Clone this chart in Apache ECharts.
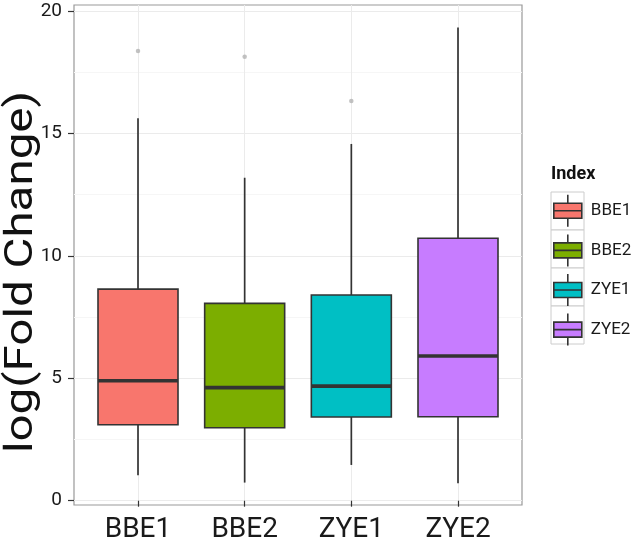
<!DOCTYPE html>
<html>
<head>
<meta charset="utf-8">
<script src="https://cdn.jsdelivr.net/npm/echarts@6/dist/echarts.min.js"></script>
<style>html,body{margin:0;padding:0;background:#fff}#c{width:641px;height:547px}</style>
</head>
<body>
<div id="c"></div>
<script>
// ---- data ----
const categories = ['BBE1', 'BBE2', 'ZYE1', 'ZYE2'];
// [min whisker, Q1, median, Q3, max whisker]
const boxBBE1 = [1.04, 3.10, 4.90, 8.64, 15.62];
const boxBBE2 = [0.74, 2.98, 4.62, 8.06, 13.19];
const boxZYE1 = [1.46, 3.42, 4.68, 8.40, 14.57];
const boxZYE2 = [0.71, 3.43, 5.91, 10.72, 19.33];
const outlierPoints = [['BBE1', 18.37], ['BBE2', 18.13], ['ZYE1', 16.32]];
const yTickMin = 0, yTickMax = 20, yTickStep = 5;
const yTitle = 'log(Fold Change)';
const legendTitle = 'Index';
const colors = ['#F8766D', '#7CAE00', '#00BFC4', '#C77CFF'];

const boxes = [boxBBE1, boxBBE2, boxZYE1, boxZYE2];
const FONT = 'Roboto';
const EDGE = '#333333';
const chart = echarts.init(document.getElementById('c'), null, {renderer: 'canvas'});

function renderBox(params, api) {
  const x = api.value(0);
  const lo = api.coord([x, api.value(1)]);
  const q1 = api.coord([x, api.value(2)]);
  const md = api.coord([x, api.value(3)]);
  const q3 = api.coord([x, api.value(4)]);
  const hi = api.coord([x, api.value(5)]);
  const w = api.size([1, 0])[0] * 0.75;
  const cx = q1[0];
  return {
    type: 'group',
    children: [
      {type: 'line', shape: {x1: cx, y1: lo[1], x2: cx, y2: q1[1]}, style: {stroke: EDGE, lineWidth: 1.7}},
      {type: 'line', shape: {x1: cx, y1: q3[1], x2: cx, y2: hi[1]}, style: {stroke: EDGE, lineWidth: 1.7}},
      {type: 'rect', shape: {x: cx - w / 2, y: q3[1], width: w, height: q1[1] - q3[1]},
       style: {fill: api.visual('color'), stroke: EDGE, lineWidth: 1.6}},
      {type: 'line', shape: {x1: cx - w / 2, y1: md[1], x2: cx + w / 2, y2: md[1]}, style: {stroke: EDGE, lineWidth: 3.6}}
    ]
  };
}

const series = [];
categories.forEach((c, i) => {
  series.push({
    type: 'custom', name: c, xAxisIndex: 2, yAxisIndex: 2, silent: true,
    renderItem: renderBox,
    itemStyle: {color: colors[i]},
    encode: {x: 0, y: [1, 2, 3, 4, 5]},
    data: [[i].concat(boxes[i])]
  });
});
series.push({
  type: 'scatter', name: 'outliers', xAxisIndex: 2, yAxisIndex: 2, silent: true,
  symbol: 'circle', symbolSize: 4.5, z: 5,
  itemStyle: {color: '#b3b3b3'},
  data: outlierPoints
});

const glyph = 'path://M14,0 L14,8.5 M0,8.5 L28,8.5 L28,23.5 L0,23.5 Z M0,16 L28,16 M14,23.5 L14,32';

chart.setOption({
  animation: false,
  backgroundColor: '#ffffff',
  title: {
    text: legendTitle, left: 551, top: 165, padding: 0,
    textStyle: {fontFamily: FONT, fontSize: 18, fontWeight: 'bold', color: '#111111'}
  },
  legend: {
    orient: 'vertical', left: 553, top: 194, padding: 0,
    itemWidth: 28, itemHeight: 32, itemGap: 6,
    data: categories.map((c, i) => ({
      name: c, icon: glyph,
      itemStyle: {color: colors[i], borderColor: EDGE, borderWidth: 1.6}
    })),
    textStyle: {fontFamily: FONT, fontSize: 17, color: '#1a1a1a', padding: [0, 0, 0, 4]},
    selectedMode: false
  },
  graphic: categories.map((c, i) => ({
    type: 'rect', z: 0, silent: true,
    shape: {x: 551, y: 192 + 38 * i, width: 33, height: 38},
    style: {fill: '#ffffff', stroke: '#cccccc', lineWidth: 1}
  })).concat([{
    type: 'text', silent: true, x: 22, y: 272, rotation: Math.PI / 2, scaleX: 1.25,
    style: {text: yTitle, font: '38px Roboto', fill: '#111111', align: 'center', verticalAlign: 'middle'}
  }]),
  grid: [
    {left: 74, top: 11, width: 448, height: 489.7},
    {left: 74, top: 5, width: 448, height: 500, show: true, borderColor: '#999999', borderWidth: 1.2, backgroundColor: 'transparent'},
    {left: 84.667, top: 5, width: 426.667, height: 500}
  ],
  xAxis: [
    {gridIndex: 0, type: 'value', min: 0, max: 1, show: false},
    {gridIndex: 1, type: 'value', min: 0, max: 1, show: false},
    {
      gridIndex: 2, type: 'category', data: categories, boundaryGap: true,
      axisLine: {show: false},
      axisTick: {show: true, alignWithLabel: true, length: 6, lineStyle: {color: EDGE, width: 1.2}},
      axisLabel: {fontFamily: FONT, fontSize: 28, color: '#1a1a1a', margin: 11},
      splitLine: {show: true, alignWithLabel: true, lineStyle: {color: '#ebebeb', width: 1}}
    }
  ],
  yAxis: [
    {
      gridIndex: 0, type: 'value', min: yTickMin, max: yTickMax, interval: yTickStep,
      axisLine: {show: false},
      axisTick: {show: true, length: 6, lineStyle: {color: EDGE, width: 1.2}},
      axisLabel: {fontFamily: FONT, fontSize: 19, color: '#1a1a1a', margin: 12},
      splitLine: {show: true, lineStyle: {color: '#ebebeb', width: 1}},
      minorTick: {show: false, splitNumber: 2},
      minorSplitLine: {show: true, lineStyle: {color: '#f6f6f6', width: 1}}
    },
    {gridIndex: 1, type: 'value', min: 0, max: 1, show: false},
    {gridIndex: 2, type: 'value', min: -0.1756, max: 20.245, show: false}
  ],
  series: series
});
</script>
</body>
</html>
